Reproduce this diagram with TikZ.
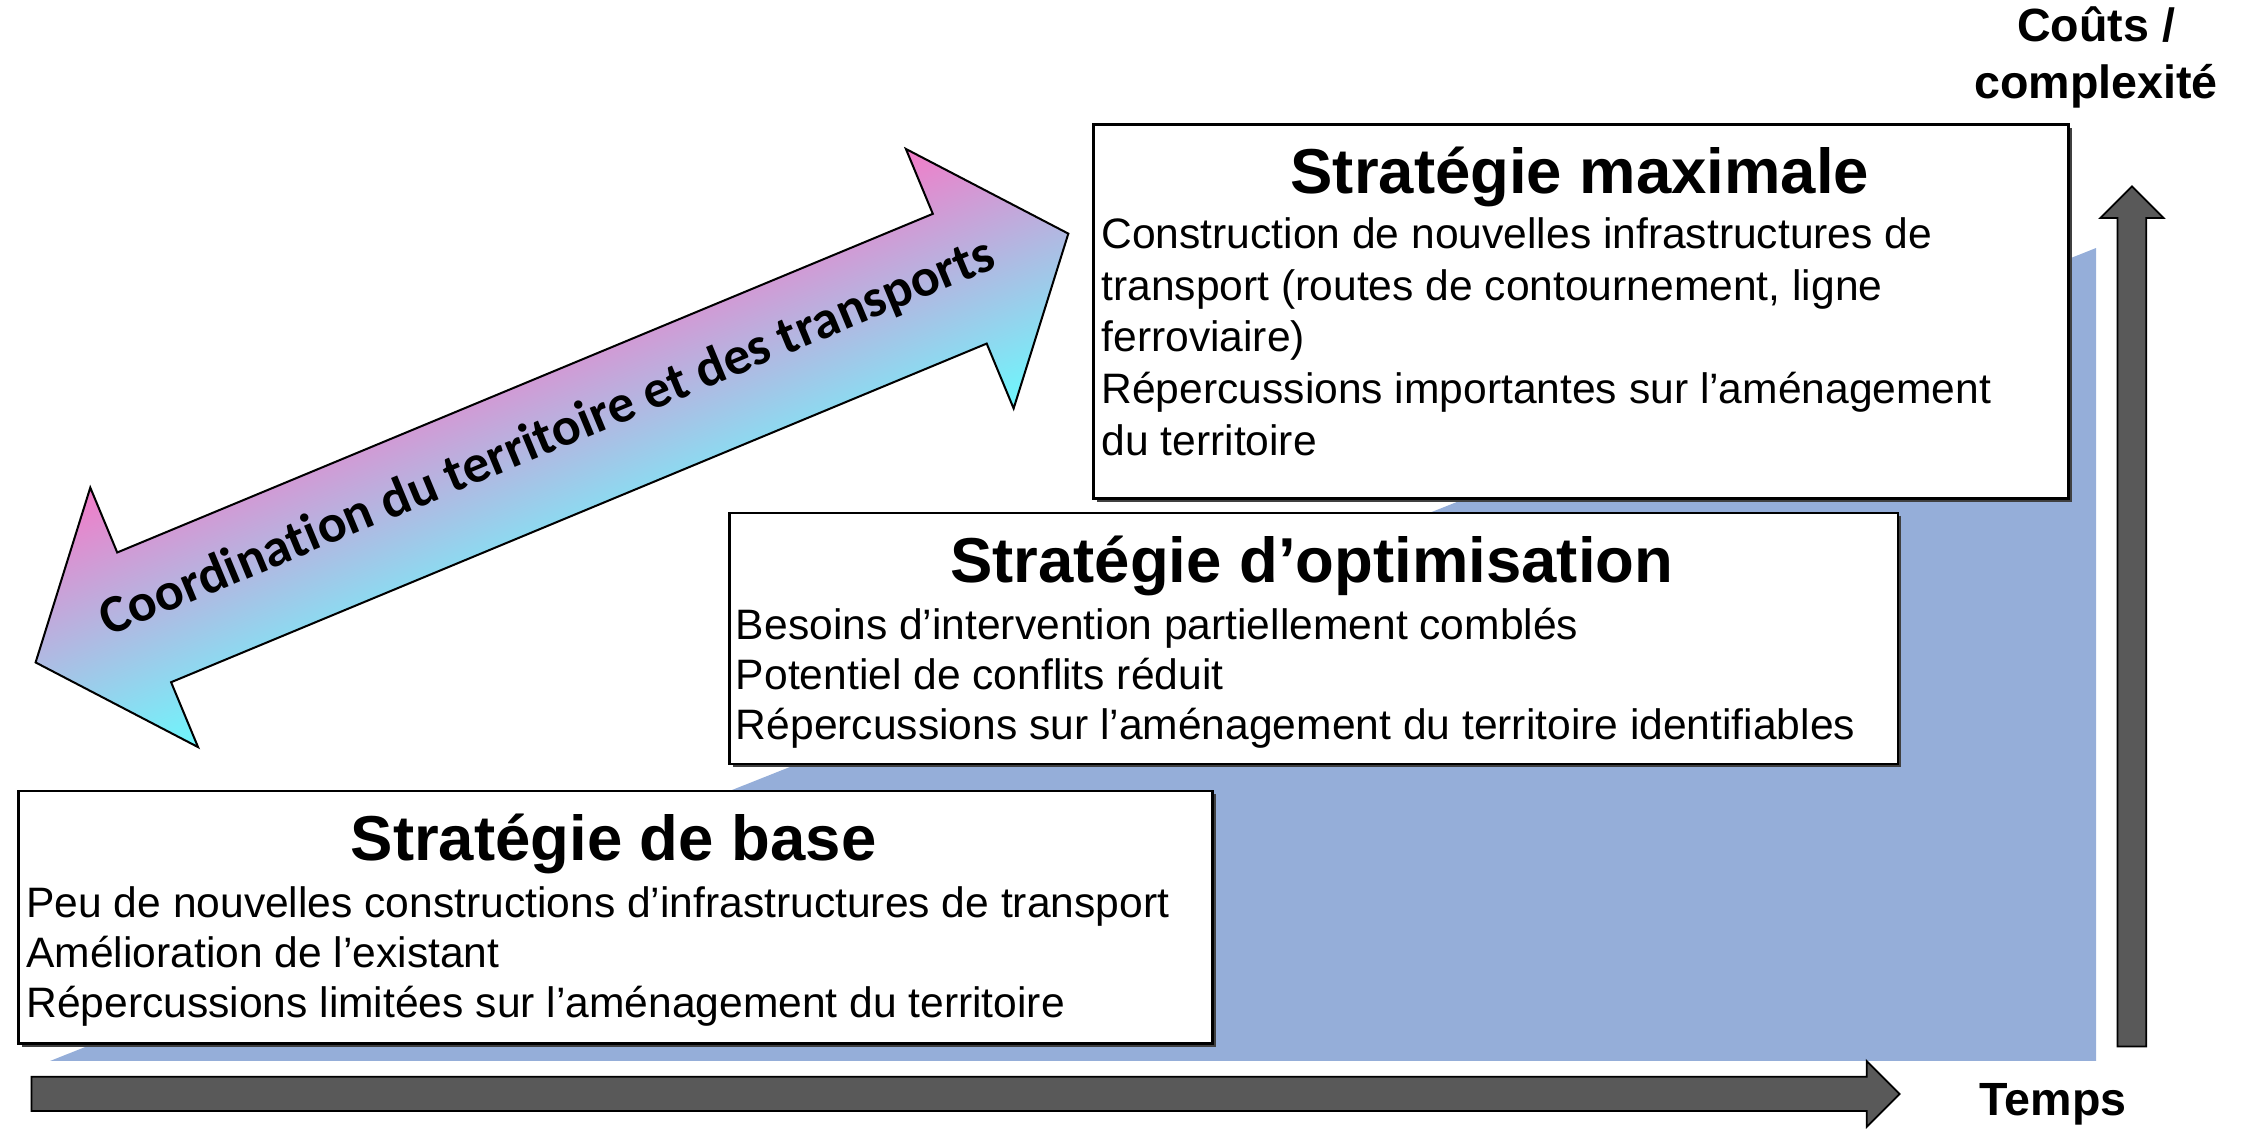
\documentclass[tikz,border=0pt]{standalone}
\usepackage{fontspec}
\setmainfont{Liberation Sans}
\newfontfamily\calfont[Ligatures=NoCommon]{Carlito}
\definecolor{bluebg}{RGB}{149,174,217}
\definecolor{darkg}{RGB}{89,89,89}
\definecolor{pinkc}{RGB}{242,124,200}
\definecolor{cyanc}{RGB}{108,248,253}
\tikzset{
  stratbox/.style={draw=black, line width=1pt, fill=white},
  shadowbox/.style={fill=black!75, draw=none},
  titletext/.style={font=\bfseries\fontsize{25.2}{30}\selectfont, inner sep=0pt, anchor=base},
  bodytext/.style={font=\fontsize{16.9}{20}\selectfont, inner sep=0pt, anchor=base west},
  axistext/.style={font=\bfseries\fontsize{18.5}{22.7}\selectfont, inner sep=0pt, align=center},
  bigarrow/.style={fill=darkg, draw=black, line width=0.7pt},
}
\begin{document}
\begin{tikzpicture}[x=0.02cm, y=-0.02cm]
\useasboundingbox (0,0) rectangle (1568,787);
% blue background triangle
\fill[bluebg] (35,740) -- (1462,173) -- (1462,740) -- cycle;
% horizontal axis arrow
\draw[bigarrow] (22,751) -- (1302,751) -- (1302,740) -- (1325,763) -- (1302,786) -- (1302,775) -- (22,775) -- cycle;
% vertical axis arrow
\draw[bigarrow] (1477,730) -- (1477,152) -- (1465,152) -- (1487,130) -- (1509,152) -- (1497,152) -- (1497,730) -- cycle;
\node[axistext] (temps) at (1432,770) {Temps};
\node[axistext] (couts) at (1462,40) {Coûts /\\complexité};
% boxes
\fill[shadowbox] (15,554) rectangle (848,730);
\node[stratbox, minimum width=833*0.02cm, minimum height=176*0.02cm, anchor=north west, inner sep=0pt] (base) at (12,551) {};
\fill[shadowbox] (511,360) rectangle (1326,535);
\node[stratbox, minimum width=815*0.02cm, minimum height=175*0.02cm, anchor=north west, inner sep=0pt] (opt) at (508,357) {};
\fill[shadowbox] (765,89) rectangle (1445,350);
\node[stratbox, minimum width=680*0.02cm, minimum height=261*0.02cm, anchor=north west, inner sep=0pt] (max) at (762,86) {};
% titles
\node[titletext] (tbase) at (428,600) {Stratégie de base};
\node[titletext] (topt) at (915,406) {Stratégie d’optimisation};
\node[titletext] (tmax) at (1102,135) {Stratégie maximale};
% body lines
\foreach \t [count=\i] in {Peu de nouvelles constructions d’infrastructures de transport, Amélioration de l’existant, Répercussions limitées sur l’aménagement du territoire}
  \node[bodytext] (lb\i) at (18,605+35*\i) {\t};
\foreach \t [count=\i] in {Besoins d’intervention partiellement comblés, Potentiel de conflits réduit, Répercussions sur l’aménagement du territoire identifiables}
  \node[bodytext] (lo\i) at (513,411+35*\i) {\t};
\foreach \t [count=\i] in {Construction de nouvelles infrastructures de, {transport (routes de contournement, ligne}, ferroviaire), Répercussions importantes sur l’aménagement, du territoire}
  \node[bodytext] (lm\i) at (768,137.5+36*\i) {\t};
% double arrow
\begin{scope}[transform canvas={shift={(385,312.5)}, rotate=22.55}]
  \path[top color=pinkc, bottom color=cyanc, draw=black, line width=0.8pt]
    (-390,0) -- (-308,-98) -- (-308,-49) -- (308,-49) -- (308,-98) -- (390,0)
    -- (308,98) -- (308,49) -- (-308,49) -- (-308,98) -- cycle;
\end{scope}
\node[font=\calfont\bfseries\fontsize{21.3}{25}\selectfont, inner sep=0pt, anchor=base, rotate=22.55] (coord) at (386,315) {Coordination du territoire et des transports};
\end{tikzpicture}
\end{document}
